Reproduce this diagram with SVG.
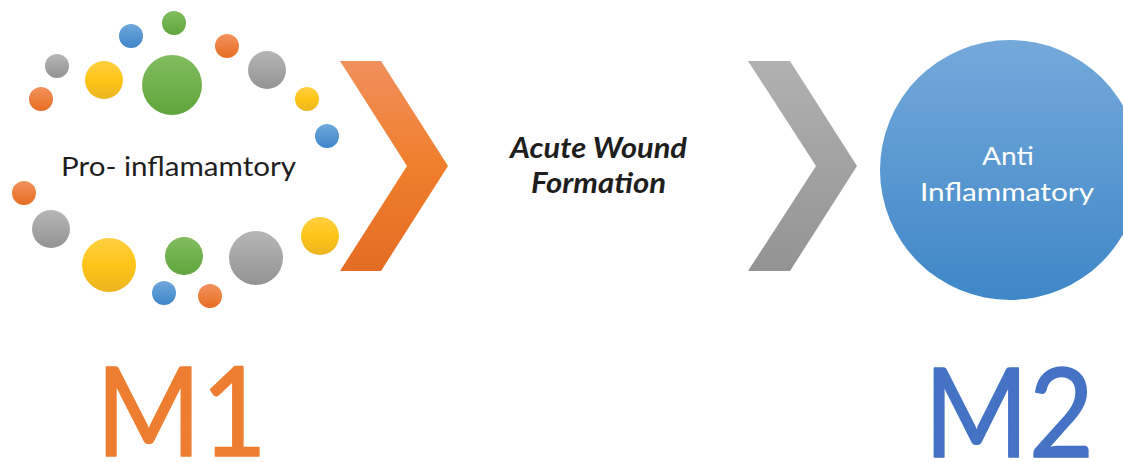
<svg xmlns="http://www.w3.org/2000/svg" width="1123" height="462" viewBox="0 0 1123 462">
  <defs>
    <linearGradient id="gOrange" x1="0" y1="0" x2="0" y2="1">
      <stop offset="0" stop-color="#F3925C"/>
      <stop offset="1" stop-color="#E66D22"/>
    </linearGradient>
    <linearGradient id="gBlue" x1="0" y1="0" x2="0" y2="1">
      <stop offset="0" stop-color="#6FA8DC"/>
      <stop offset="1" stop-color="#3F86C9"/>
    </linearGradient>
    <linearGradient id="gGreen" x1="0" y1="0" x2="0" y2="1">
      <stop offset="0" stop-color="#82BD5E"/>
      <stop offset="1" stop-color="#5FA63D"/>
    </linearGradient>
    <linearGradient id="gGray" x1="0" y1="0" x2="0" y2="1">
      <stop offset="0" stop-color="#B6B6B6"/>
      <stop offset="1" stop-color="#939393"/>
    </linearGradient>
    <linearGradient id="gYellow" x1="0" y1="0" x2="0" y2="1">
      <stop offset="0" stop-color="#FFCF40"/>
      <stop offset="0.5" stop-color="#FFC518"/>
      <stop offset="1" stop-color="#EBB420"/>
    </linearGradient>
    <linearGradient id="gChevOrange" x1="0" y1="0" x2="0" y2="1">
      <stop offset="0" stop-color="#F0905C"/>
      <stop offset="0.5" stop-color="#F07E2C"/>
      <stop offset="1" stop-color="#E46C24"/>
    </linearGradient>
    <linearGradient id="gChevGray" x1="0" y1="0" x2="0" y2="1">
      <stop offset="0" stop-color="#B1B1B1"/>
      <stop offset="1" stop-color="#939393"/>
    </linearGradient>
    <linearGradient id="gBigBlue" x1="0" y1="0" x2="0" y2="1">
      <stop offset="0" stop-color="#74A9DA"/>
      <stop offset="1" stop-color="#3F87C8"/>
    </linearGradient>
  </defs>
  <style>
    .o { fill: url(#gOrange); }
    .b { fill: url(#gBlue); }
    .g { fill: url(#gGreen); }
    .s { fill: url(#gGray); }
    .y { fill: url(#gYellow); }
    .lbl { font-family: Lato, "Open Sans", "Liberation Sans", sans-serif; }
    .big { font-size: 124px; stroke-width: 1.5; stroke-linejoin: round; }
  </style>

  <!-- M1: ring of cytokine dots around the label -->
  <g id="pro-inflammatory">
    <circle class="g" cx="174" cy="23" r="12"/>
    <circle class="b" cx="131" cy="36" r="12"/>
    <circle class="o" cx="227" cy="46" r="12"/>
    <circle class="s" cx="57" cy="66" r="12"/>
    <circle class="y" cx="104" cy="80" r="19"/>
    <circle class="g" cx="172" cy="85" r="30"/>
    <circle class="s" cx="267" cy="70" r="19"/>
    <circle class="o" cx="41" cy="99" r="12"/>
    <circle class="y" cx="307" cy="99" r="12"/>
    <circle class="b" cx="327" cy="136" r="12"/>
    <circle class="o" cx="24" cy="193" r="12"/>
    <circle class="s" cx="51" cy="229" r="19"/>
    <circle class="y" cx="109" cy="265" r="27"/>
    <circle class="g" cx="184" cy="256" r="19"/>
    <circle class="s" cx="256" cy="258" r="27"/>
    <circle class="y" cx="320" cy="236" r="19"/>
    <circle class="b" cx="164" cy="293" r="12"/>
    <circle class="o" cx="210" cy="296" r="12"/>
    <text class="lbl" x="61" y="176" font-size="26.5" fill="#1E1E1E" textLength="235" lengthAdjust="spacingAndGlyphs">Pro- inflamamtory</text>
  </g>

  <!-- chevron arrows -->
  <g id="connectors">
    <polygon points="340,61 381,61 448,166 381,271 340,271 407,166" fill="url(#gChevOrange)"/>
    <polygon points="748,61 790,61 857,166 790,271 748,271 816,166" fill="url(#gChevGray)"/>
  </g>

  <g id="acute-wound">
    <text class="lbl" font-size="28" font-weight="bold" font-style="italic" fill="#1E1E1E">
      <tspan x="510" y="158" textLength="177" lengthAdjust="spacingAndGlyphs">Acute Wound</tspan>
      <tspan x="531" y="193" textLength="135" lengthAdjust="spacingAndGlyphs">Formation</tspan>
    </text>
  </g>

  <!-- M2 -->
  <g id="anti-inflammatory">
    <circle cx="1010" cy="170" r="130" fill="url(#gBigBlue)"/>
    <text class="lbl" font-size="25" fill="#FFFFFF">
      <tspan x="982" y="165" textLength="52" lengthAdjust="spacingAndGlyphs">Anti</tspan>
      <tspan x="920" y="201" textLength="174" lengthAdjust="spacingAndGlyphs">Inflammatory</tspan>
    </text>
  </g>

  <g id="label-m1">
    <text class="lbl big" x="96" y="456" fill="#ED7D31" stroke="#ED7D31" textLength="171" lengthAdjust="spacingAndGlyphs">M1</text>
  </g>
  <g id="label-m2">
    <text class="lbl big" x="924" y="457" fill="#4472C4" stroke="#4472C4" textLength="170" lengthAdjust="spacingAndGlyphs">M2</text>
  </g>
</svg>
